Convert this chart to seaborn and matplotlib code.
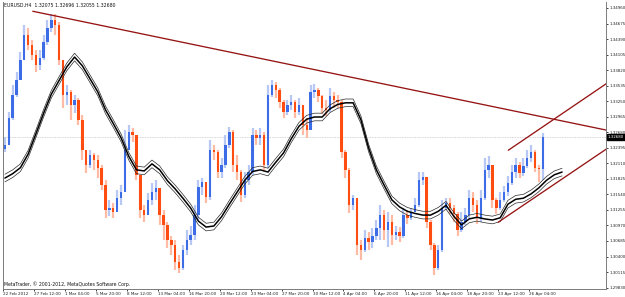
import numpy as np
import pandas as pd
import matplotlib
matplotlib.use("Agg")
import matplotlib.pyplot as plt
import matplotlib.transforms as mtrans
import seaborn as sns

# ---------------- data ----------------
symbol_header = "EURUSD,H4  1.32075 1.32696 1.32055 1.32680"
last_price_label = "1.32680"
copyright_text = "MetaTrader, \u00a9 2001-2012, MetaQuotes Software Corp."

close = [
    1.3245, 1.3294, 1.3336, 1.3364, 1.3401, 1.3446, 1.3428, 1.3410, 1.3391, 1.3404,
    1.3434, 1.3459, 1.3474, 1.3465, 1.3401, 1.3336, 1.3342, 1.3318, 1.3327, 1.3291,
    1.3235, 1.3208, 1.3226, 1.3217, 1.3202, 1.3171, 1.3125, 1.3129, 1.3122, 1.3147,
    1.3158, 1.3235, 1.3269, 1.3263, 1.3190, 1.3125, 1.3116, 1.3144, 1.3158, 1.3166,
    1.3116, 1.3098, 1.3070, 1.3061, 1.3030, 1.3019, 1.3052, 1.3070, 1.3079, 1.3116,
    1.3168, 1.3177, 1.3149, 1.3235, 1.3232, 1.3195, 1.3208, 1.3245, 1.3269, 1.3208,
    1.3195, 1.3153, 1.3180, 1.3195, 1.3263, 1.3257, 1.3263, 1.3208, 1.3336, 1.3355,
    1.3346, 1.3324, 1.3305, 1.3318, 1.3324, 1.3305, 1.3318, 1.3281, 1.3272, 1.3342,
    1.3346, 1.3335, 1.3313, 1.3309, 1.3335, 1.3327, 1.3324, 1.3232, 1.3199, 1.3134,
    1.3147, 1.3061, 1.3052, 1.3074, 1.3067, 1.3078, 1.3092, 1.3116, 1.3089, 1.3103,
    1.3080, 1.3085, 1.3078, 1.3116, 1.3111, 1.3122, 1.3134, 1.3180, 1.3186, 1.3103,
    1.3061, 1.3019, 1.3052, 1.3129, 1.3138, 1.3129, 1.3118, 1.3089, 1.3103, 1.3116,
    1.3147, 1.3134, 1.3111, 1.3147, 1.3199, 1.3208, 1.3144, 1.3129, 1.3144, 1.3158,
    1.3175, 1.3195, 1.3208, 1.3193, 1.3206, 1.3221, 1.3232, 1.3202, 1.3200, 1.3259,
]
high = [
    1.3259, 1.3305, 1.3355, 1.3379, 1.3415, 1.3465, 1.3459, 1.3437, 1.3419, 1.3419,
    1.3446, 1.3474, 1.3485, 1.3485, 1.3470, 1.3364, 1.3355, 1.3346, 1.3336, 1.3331,
    1.3300, 1.3235, 1.3235, 1.3230, 1.3226, 1.3208, 1.3180, 1.3144, 1.3138, 1.3162,
    1.3171, 1.3272, 1.3281, 1.3276, 1.3258, 1.3190, 1.3134, 1.3156, 1.3175, 1.3180,
    1.3166, 1.3125, 1.3103, 1.3078, 1.3070, 1.3043, 1.3061, 1.3089, 1.3096, 1.3134,
    1.3180, 1.3184, 1.3177, 1.3254, 1.3245, 1.3235, 1.3221, 1.3263, 1.3278, 1.3272,
    1.3226, 1.3199, 1.3195, 1.3208, 1.3276, 1.3272, 1.3276, 1.3269, 1.3355, 1.3364,
    1.3360, 1.3349, 1.3327, 1.3327, 1.3336, 1.3327, 1.3331, 1.3318, 1.3294, 1.3355,
    1.3357, 1.3349, 1.3336, 1.3327, 1.3349, 1.3342, 1.3336, 1.3327, 1.3235, 1.3202,
    1.3153, 1.3147, 1.3070, 1.3089, 1.3085, 1.3092, 1.3107, 1.3134, 1.3125, 1.3122,
    1.3116, 1.3096, 1.3094, 1.3129, 1.3125, 1.3129, 1.3147, 1.3195, 1.3195, 1.3184,
    1.3107, 1.3065, 1.3061, 1.3144, 1.3147, 1.3147, 1.3134, 1.3122, 1.3122, 1.3129,
    1.3162, 1.3158, 1.3144, 1.3162, 1.3221, 1.3224, 1.3208, 1.3147, 1.3158, 1.3169,
    1.3188, 1.3208, 1.3221, 1.3213, 1.3221, 1.3235, 1.3245, 1.3235, 1.3208, 1.3267,
]
low = [
    1.3232, 1.3245, 1.3291, 1.3333, 1.3364, 1.3401, 1.3419, 1.3401, 1.3379, 1.3382,
    1.3401, 1.3428, 1.3452, 1.3446, 1.3391, 1.3313, 1.3318, 1.3291, 1.3303, 1.3281,
    1.3217, 1.3193, 1.3202, 1.3199, 1.3184, 1.3162, 1.3111, 1.3114, 1.3111, 1.3125,
    1.3134, 1.3162, 1.3235, 1.3250, 1.3180, 1.3111, 1.3103, 1.3116, 1.3134, 1.3144,
    1.3098, 1.3070, 1.3056, 1.3043, 1.3015, 1.3010, 1.3015, 1.3043, 1.3061, 1.3070,
    1.3107, 1.3153, 1.3138, 1.3144, 1.3217, 1.3184, 1.3184, 1.3202, 1.3239, 1.3195,
    1.3180, 1.3140, 1.3147, 1.3171, 1.3190, 1.3245, 1.3245, 1.3199, 1.3202, 1.3333,
    1.3331, 1.3313, 1.3294, 1.3300, 1.3309, 1.3294, 1.3300, 1.3263, 1.3258, 1.3272,
    1.3331, 1.3324, 1.3302, 1.3298, 1.3305, 1.3313, 1.3313, 1.3221, 1.3184, 1.3120,
    1.3125, 1.3043, 1.3034, 1.3048, 1.3052, 1.3056, 1.3070, 1.3070, 1.3070, 1.3057,
    1.3061, 1.3070, 1.3067, 1.3074, 1.3100, 1.3107, 1.3122, 1.3131, 1.3171, 1.3092,
    1.3052, 1.3006, 1.3015, 1.3048, 1.3125, 1.3118, 1.3103, 1.3078, 1.3085, 1.3098,
    1.3111, 1.3122, 1.3100, 1.3103, 1.3144, 1.3184, 1.3129, 1.3118, 1.3125, 1.3140,
    1.3151, 1.3171, 1.3184, 1.3184, 1.3188, 1.3202, 1.3213, 1.3195, 1.3177, 1.3180,
]
first_open = 1.3238

# moving average (sampled every 2 candles, shifted forward beyond the last bar)
ma_step = 2
ma_values = [
    1.3184, 1.3192, 1.3203, 1.3228, 1.3265, 1.3303, 1.3338, 1.3363, 1.3388, 1.3406,
    1.3390, 1.3366, 1.3342, 1.3309, 1.3284, 1.3258, 1.3224, 1.3199, 1.3197, 1.3210,
    1.3199, 1.3179, 1.3164, 1.3147, 1.3129, 1.3105, 1.3094, 1.3096, 1.3113, 1.3136,
    1.3158, 1.3180, 1.3196, 1.3199, 1.3195, 1.3213, 1.3230, 1.3256, 1.3279, 1.3292,
    1.3296, 1.3296, 1.3311, 1.3319, 1.3322, 1.3322, 1.3291, 1.3239, 1.3199, 1.3171,
    1.3144, 1.3131, 1.3123, 1.3119, 1.3116, 1.3116, 1.3123, 1.3134, 1.3114, 1.3098,
    1.3109, 1.3112, 1.3109, 1.3107, 1.3111, 1.3136, 1.3145, 1.3147, 1.3155, 1.3166,
    1.3180, 1.3190, 1.3195,
]
ma_band = 0.0007

# trend lines: (candle positions, prices)
trend_main_x, trend_main_y = [7.2, 155.4], [1.3490, 1.3272]
chan_up_x, chan_up_y = [130.1, 155.4], [1.3235, 1.3357]
chan_lo_x, chan_lo_y = [127.5, 155.4], [1.3103, 1.3237]

price_ticks = [1.34960, 1.34675, 1.34390, 1.34105, 1.33820, 1.33535, 1.33250,
               1.32965, 1.32680, 1.32395, 1.32110, 1.31825, 1.31540, 1.31255,
               1.30970, 1.30685, 1.30400, 1.30115, 1.29830]
date_labels = ["22 Feb 2012", "27 Feb 12:00", "1 Mar 04:00", "5 Mar 20:00",
               "8 Mar 12:00", "13 Mar 04:00", "16 Mar 20:00", "20 Mar 12:00",
               "23 Mar 04:00", "27 Mar 20:00", "30 Mar 12:00", "4 Apr 04:00",
               "6 Apr 20:00", "11 Apr 12:00", "16 Apr 04:00", "18 Apr 20:00",
               "23 Apr 12:00", "26 Apr 04:00"]
candles_per_label = 8

# ---------------- build frames ----------------
n = len(close)
opens = [first_open] + close[:-1]
df = pd.DataFrame({"t": np.arange(n), "open": opens, "high": high,
                   "low": low, "close": close})
df["high"] = df[["high", "open", "close"]].max(axis=1)
df["low"] = df[["low", "open", "close"]].min(axis=1)
df["up"] = df["close"] >= df["open"]

ma = pd.DataFrame({"t": np.arange(len(ma_values)) * ma_step, "ma": ma_values})
ma["upper"] = ma["ma"] + ma_band
ma["lower"] = ma["ma"] - ma_band

# ---------------- figure ----------------
sns.set_theme(style="white")
plt.rcParams["font.family"] = ["DejaVu Sans"]

W, H = 625, 297
fig = plt.figure(figsize=(W / 100, H / 100), dpi=100)
fig.patch.set_facecolor("white")
ax = fig.add_axes([3 / W, 8 / H, 603 / W, 287 / H])
ax.set_facecolor("white")

up_col, dn_col = "#3C6DE6", "#FF4D12"
up_pale, dn_pale = "#B7C8F5", "#FFBBA3"

wick_colors = np.where(df["up"], up_pale, dn_pale)
ax.vlines(df["t"], df["low"], df["high"], colors=wick_colors, lw=1.6, zorder=2)
body_h = (df["close"] - df["open"]).abs().clip(lower=0.00012)
body_b = df[["open", "close"]].min(axis=1)
ax.bar(df["t"], body_h, bottom=body_b, width=0.62,
       color=np.where(df["up"], up_col, dn_col), lw=0, zorder=3)

# moving average with envelope
sns.lineplot(data=ma, x="t", y="upper", ax=ax, color="#2A2A2A", lw=0.5, zorder=4)
sns.lineplot(data=ma, x="t", y="lower", ax=ax, color="#2A2A2A", lw=0.5, zorder=4)
sns.lineplot(data=ma, x="t", y="ma", ax=ax, color="black", lw=1.1, zorder=5)

# trend lines
tl_col = "#961414"
for xs, ys in [(trend_main_x, trend_main_y), (chan_up_x, chan_up_y), (chan_lo_x, chan_lo_y)]:
    sns.lineplot(x=xs, y=ys, ax=ax, color=tl_col, lw=0.95, zorder=6)

# current price line
ax.axhline(close[-1], color="#C8C8C8", lw=0.6, ls=(0, (1, 1)), zorder=1)

ax.set_xlim(-0.26, 155.35)
ax.set_ylim(1.29804, 1.35070)
ax.set_xlabel("")
ax.set_ylabel("")

# axes styling
for side in ["left", "right", "bottom", "top"]:
    ax.spines[side].set_color("#7A7A7A")
    ax.spines[side].set_linewidth(0.7)
ax.spines["top"].set_visible(False)

ax.yaxis.tick_right()
ax.set_yticks(price_ticks)
ax.set_yticklabels([f"{v:.5f}" for v in price_ticks])
ax.tick_params(axis="y", which="both", right=True, left=False, length=1.5, width=0.6,
               pad=1.0, labelsize=2.9, colors="#222222")

label_pos = [k * candles_per_label - 0.5 for k in range(len(date_labels))]
ax.set_xticks(label_pos)
ax.set_xticklabels(date_labels, ha="left")
ax.tick_params(axis="x", which="both", bottom=True, length=1.5, width=0.6, pad=0.8,
               labelsize=3.0, colors="#222222")

# current price box
trans = mtrans.blended_transform_factory(ax.transAxes, ax.transData)
ax.text(1.003, close[-1], last_price_label, transform=trans, ha="left", va="center",
        fontsize=2.9, color="white", zorder=10, clip_on=False,
        bbox=dict(boxstyle="square,pad=0.2", fc="black", ec="black"))

fig.text(4 / W, 1 - 5.5 / H, symbol_header, fontsize=3.3, color="#111111",
         ha="left", va="center")
fig.text(4 / W, 1 - 284 / H, copyright_text, fontsize=3.3, color="#111111",
         ha="left", va="center")

fig.savefig("out.png", dpi=100, facecolor="white")
